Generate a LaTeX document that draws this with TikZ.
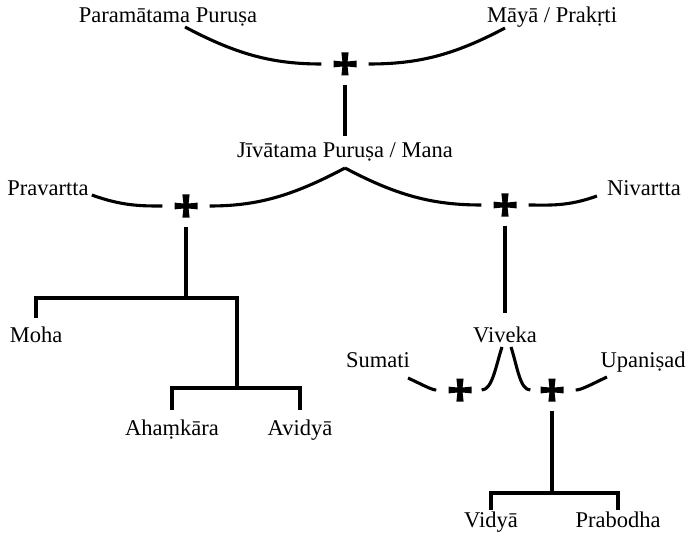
\documentclass[tikz,border=0pt]{standalone}
\usepackage{fontspec}
\setmainfont{Liberation Serif}
\usetikzlibrary{calc}

\begin{document}
\begin{tikzpicture}[
    x = 1pt, y = 1pt,
    term/.style = {
        inner sep = 0pt,
        text height = 15pt,
        text depth = 5pt,
        anchor = base,
        font = \fontsize{22.5}{26}\selectfont
    },
    union/.style = {
        minimum size = 23pt,
        inner sep = 0pt,
        path picture = {
            \begin{scope}[shift={(path picture bounding box.center)}]
            \fill (-3.6,11.5) -- (3.6,11.5) -- (2.6,2.5) -- (11.5,3.4) -- (11.5,-3.4) -- (2.6,-2.5)
                -- (3.6,-11.5) -- (-3.6,-11.5) -- (-2.6,-2.5) -- (-11.5,-3.4) -- (-11.5,3.4) -- (-2.6,2.5) -- cycle;
            \end{scope}
        }
    },
    link/.style = {line width = 3.1pt},
    arc/.style = {link, shorten >= 12pt},
    stem/.style = {link, shorten <= 9pt}
]

\useasboundingbox (0,0) rectangle (690,539);

% Terms
\node[term] (para) at (168,516) {Paramātama Puruṣa};
\node[term] (maya) at (552,516) {Māyā / Prakṛti};
\node[term] (jiva) at (345,381) {Jīvātama Puruṣa / Mana};
\node[term] (prav) at (48,344)  {Pravartta};
\node[term] (niv)  at (644,343) {Nivartta};
\node[term] (moha) at (36,197)  {Moha};
\node[term] (aham) at (172,104) {Ahaṃkāra};
\node[term] (avid) at (300,104) {Avidyā};
\node[term] (vive) at (505,197) {Viveka};
\node[term] (suma) at (378,172) {Sumati};
\node[term] (upan) at (643,172) {Upaniṣad};
\node[term] (vidy) at (491,12)  {Vidyā};
\node[term] (prab) at (618,12)  {Prabodha};

% Unions
\node[union] (c1) at (345,475) {};
\node[union] (c2) at (186,333) {};
\node[union] (c3) at (505,334) {};
\node[union] (c4) at (460,149) {};
\node[union] (c5) at (552,149) {};

% Top union
\draw[arc] ($(para.base)+(17,-4)$) to[out=-28, in=180] (c1.west);
\draw[arc] ($(maya.base)+(-47,-5)$) to[out=-152, in=0] (c1.east);
\draw[stem, shorten >= 7pt] (c1.south) -- (jiva.north);

% Jivatama splits
\draw[arc] ($(jiva.base)+(0,-10)$) to[out=-152, in=0] (c2.east);
\draw[arc] ($(jiva.base)+(0,-10)$) to[out=-28, in=180] (c3.west);
\draw[arc] ([xshift=3pt]prav.base east) to[out=-20, in=180] (c2.west);
\draw[arc] ([xshift=-10pt]niv.base west) to[out=-160, in=0] (c3.east);

% Pravartta branch
\coordinate (forkL)  at (186,241);
\coordinate (forkL2) at (237,151);
\draw[stem] (c2.south) -- (forkL);
\draw[link] ([yshift=9pt]moha.north) |- (forkL) -| (forkL2);
\draw[link] ([yshift=10pt]aham.north) |- (forkL2) -| ([yshift=10pt]avid.north);

% Nivartta branch
\draw[stem, shorten >= 14pt] (c3.south) -- (vive.north);
\draw[arc, shorten >= 10pt] ($(vive.base)+(-3,-5)$) to[out=-108, in=0] (c4.east);
\draw[arc, shorten >= 10pt] ($(vive.base)+(6,-5)$) to[out=-72, in=180] (c5.west);
\draw[arc] ($(suma.base)+(30,-11)$) to[out=-25, in=180] (c4.west);
\draw[arc] ($(upan.base)+(-36,-10)$) to[out=-155, in=0] (c5.east);

\coordinate (forkR) at (552,46);
\draw[stem] (c5.south) -- (forkR);
\draw[link] ([yshift=2pt]vidy.north) |- (forkR) -| ([yshift=2pt]prab.north);

\end{tikzpicture}
\end{document}
